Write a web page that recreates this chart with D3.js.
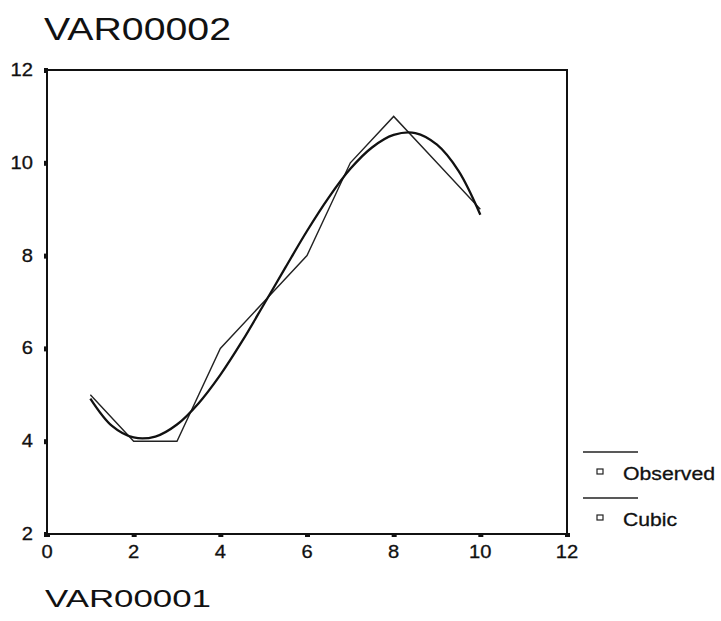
<!DOCTYPE html>
<html><head><meta charset="utf-8">
<script src="https://cdn.jsdelivr.net/npm/d3@7"></script>
<style>body{margin:0;background:#fff}svg{display:block}text{font-family:"Liberation Sans",Arial,sans-serif;fill:#111}</style>
</head><body>
<script>
const obsX = [1,2,3,4,5,6,7,8,9,10];
const obsY = [5,4,4,6,7,8,10,11,10,9];
const cubicX = [1,1.5,2,2.5,3,3.5,4,4.5,5,5.5,6,6.5,7,7.5,8,8.5,9,9.5,10];
const cubicY = [4.92,4.33,4.08,4.1,4.36,4.82,5.43,6.15,6.94,7.74,8.53,9.25,9.87,10.33,10.6,10.64,10.39,9.82,8.88];
const xTicks = [0,2,4,6,8,10,12];
const yTicks = [2,4,6,8,10,12];
const legendLabels = ["Observed","Cubic"];

const W=721,H=621;
const svg=d3.select("body").append("svg").attr("width",W).attr("height",H);
const x=d3.scaleLinear().domain([0,12]).range([47,567]);
const y=d3.scaleLinear().domain([2,12]).range([534,70]);

svg.append("text").attr("x",44).attr("y",40).attr("font-size",32)
  .attr("textLength",187).attr("lengthAdjust","spacingAndGlyphs").text("VAR00002");

// frame
svg.append("rect").attr("x",x(0)).attr("y",y(12)).attr("width",x(12)-x(0)).attr("height",y(2)-y(12))
  .attr("fill","none").attr("stroke","#111").attr("stroke-width",2);

// ticks
const g=svg.append("g");
g.selectAll(".xt").data(xTicks).join("rect").attr("x",d=>x(d)-2).attr("y",y(2)-1).attr("width",5).attr("height",4).attr("fill","#111");
g.selectAll(".yt").data(yTicks).join("rect").attr("x",x(0)-3).attr("y",d=>y(d)-2).attr("width",4).attr("height",5).attr("fill","#111");
g.selectAll(".xl").data(xTicks).join("text").attr("x",d=>x(d)).attr("y",y(2)+24).attr("text-anchor","middle")
  .attr("font-size",18).attr("stroke","#111").attr("stroke-width",0.3)
  .attr("transform",d=>`translate(${x(d)},0) scale(1.12,1) translate(${-x(d)},0)`).text(d=>d);
g.selectAll(".yl").data(yTicks).join("text").attr("x",33).attr("y",d=>y(d)+6).attr("text-anchor","end")
  .attr("font-size",18).attr("stroke","#111").attr("stroke-width",0.3)
  .attr("transform",`translate(33,0) scale(1.12,1) translate(-33,0)`).text(d=>d);

// lines
const obs=obsX.map((v,i)=>[v,obsY[i]]);
const cub=cubicX.map((v,i)=>[v,cubicY[i]]);
svg.append("path").attr("d",d3.line().x(d=>x(d[0])).y(d=>y(d[1]))(obs)).attr("fill","none").attr("stroke","#222").attr("stroke-width",1.4);
svg.append("path").attr("d",d3.line().curve(d3.curveCatmullRom).x(d=>x(d[0])).y(d=>y(d[1]))(cub)).attr("fill","none").attr("stroke","#111").attr("stroke-width",2.3);

// legend
const lg=svg.append("g");
legendLabels.forEach((lab,i)=>{
  const yy=452+i*46;
  lg.append("line").attr("x1",583).attr("x2",638).attr("y1",yy).attr("y2",yy).attr("stroke","#222").attr("stroke-width",1.4);
  lg.append("rect").attr("x",597).attr("y",yy+17).attr("width",6).attr("height",5).attr("fill","none").attr("stroke","#222").attr("stroke-width",1.2);
  lg.append("text").attr("x",623).attr("y",yy+28).attr("font-size",18).attr("stroke","#111").attr("stroke-width",0.3)
    .attr("textLength",i===0?92:54).attr("lengthAdjust","spacingAndGlyphs").text(lab);
});

svg.append("text").attr("x",45).attr("y",607).attr("font-size",23)
  .attr("textLength",166).attr("lengthAdjust","spacingAndGlyphs").text("VAR00001");
</script>
</body></html>
